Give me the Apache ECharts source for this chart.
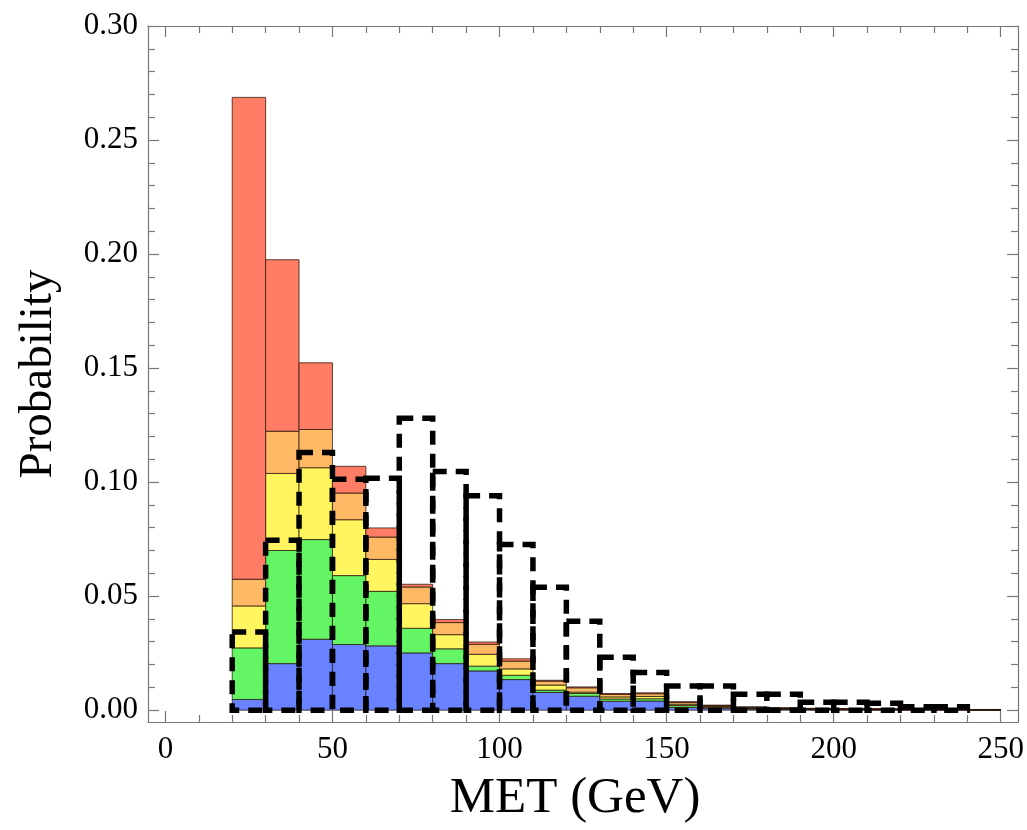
<!DOCTYPE html>
<html>
<head>
<meta charset="utf-8">
<script src="https://cdn.jsdelivr.net/npm/echarts@6/dist/echarts.min.js"></script>
<style>
html,body{margin:0;padding:0;background:#fff;}
#chart{width:1027px;height:830px;}
</style>
</head>
<body>
<div id="chart"></div>
<script>
// ---- data (bin start of each 10 GeV bin) ----
const binStarts = [20,30,40,50,60,70,80,90,100,110,120,130,140,150,160,170,180,190,200,210,220,230,240];
const binWidth = 10;
// stacked background components (segment heights, bottom to top)
const blueVals   = [0.0047,0.0204,0.0311,0.0288,0.0282,0.0251,0.0204,0.0172,0.0134,0.0078,0.0061,0.0039,0.0040,0.0012,0.0008,0.0004,0.0003,0.0002,0.0002,0.0001,0.0001,0.0001,0.0001];
const greenVals  = [0.0226,0.0496,0.0437,0.0302,0.0239,0.0108,0.0065,0.0021,0.0019,0.0010,0.0012,0.0010,0.0010,0.0008,0.0004,0.0003,0.0002,0.0002,0.0001,0.0002,0.0001,0.0001,0.0000];
const yellowVals = [0.0184,0.0338,0.0315,0.0245,0.0140,0.0108,0.0062,0.0052,0.0028,0.0022,0.0006,0.0009,0.0010,0.0006,0.0004,0.0003,0.0002,0.0001,0.0001,0.0001,0.0001,0.0001,0.0001];
const orangeVals = [0.0117,0.0185,0.0168,0.0117,0.0098,0.0073,0.0053,0.0044,0.0034,0.0017,0.0019,0.0011,0.0012,0.0008,0.0004,0.0003,0.0002,0.0002,0.0002,0.0001,0.0001,0.0000,0.0000];
const redVals    = [0.2113,0.0752,0.0292,0.0117,0.0040,0.0012,0.0013,0.0010,0.0010,0.0004,0.0004,0.0004,0.0004,0.0003,0.0002,0.0001,0.0001,0.0001,0.0001,0.0001,0.0001,0.0001,0.0001];
// dashed histogram (bins 20..230)
const dashedVals = [0.0343,0.0745,0.1130,0.1012,0.1017,0.1280,0.1047,0.0940,0.0726,0.0539,0.0390,0.0232,0.0165,0.0106,0.0106,0.0070,0.0070,0.0035,0.0035,0.0030,0.0015,0.0015];
// axis ticks
const xMajorTicks = [0,50,100,150,200,250];
const xMinorTicks = [10,20,30,40,60,70,80,90,110,120,130,140,160,170,180,190,210,220,230,240];
const yMajorTicks = [0,0.05,0.10,0.15,0.20,0.25,0.30];
const yMinorTicks = [0.01,0.02,0.03,0.04,0.06,0.07,0.08,0.09,0.11,0.12,0.13,0.14,0.16,0.17,0.18,0.19,0.21,0.22,0.23,0.24,0.26,0.27,0.28,0.29];

const stackDefs = [
  {name:'blue',   vals: blueVals,   color:'#6982FF'},
  {name:'green',  vals: greenVals,  color:'#64F564'},
  {name:'yellow', vals: yellowVals, color:'#FFF55F'},
  {name:'orange', vals: orangeVals, color:'#FFB964'},
  {name:'red',    vals: redVals,    color:'#FF7D64'}
];

const base = binStarts.map(() => 0);
const series = [];
stackDefs.forEach(def => {
  const data = binStarts.map((x0, i) => {
    const b = base[i];
    const t = b + def.vals[i];
    base[i] = t;
    return [x0, x0 + binWidth, b, t];
  });
  series.push({
    type: 'custom',
    name: def.name,
    xAxisIndex: 0, yAxisIndex: 0,
    silent: true,
    data: data,
    renderItem: function (params, api) {
      const p0 = api.coord([api.value(0), api.value(3)]);
      const p1 = api.coord([api.value(1), api.value(2)]);
      return {
        type: 'rect',
        shape: {x: p0[0], y: p0[1], width: p1[0] - p0[0], height: p1[1] - p0[1]},
        style: {fill: def.color, stroke: 'rgba(40,20,10,0.75)', lineWidth: 1}
      };
    },
    z: 2
  });
});

series.push({
  type: 'custom',
  name: 'dashed',
  xAxisIndex: 0, yAxisIndex: 0,
  silent: true,
  data: dashedVals.map((v, i) => [binStarts[i], binStarts[i] + binWidth, v]),
  renderItem: function (params, api) {
    const p0 = api.coord([api.value(0), api.value(2)]);
    const p1 = api.coord([api.value(1), 0]);
    return {
      type: 'rect',
      shape: {x: p0[0], y: p0[1], width: p1[0] - p0[0], height: p1[1] - p0[1]},
      style: {fill: null, stroke: '#000', lineWidth: 5.5, lineDash: [14, 9]}
    };
  },
  z: 5
});

const font = 'Liberation Serif';
const frameColor = '#777';
const X_MIN = -5.2, X_MAX = 255.2, Y_MIN = -0.0052, Y_MAX = 0.30;

function xAxisDef(pos, ticks, len, showLine, showLabel, name) {
  return {
    type: 'value', position: pos, min: X_MIN, max: X_MAX,
    axisLine: {show: showLine, onZero: false, lineStyle: {color: frameColor, width: 1.2}},
    axisTick: {show: true, inside: true, length: len, customValues: ticks, lineStyle: {color: frameColor, width: 1.2}},
    axisLabel: {show: showLabel, customValues: ticks, margin: 12, color: '#000', fontFamily: font, fontSize: 31},
    splitLine: {show: false},
    name: name || '', nameLocation: 'middle', nameGap: 51,
    nameTextStyle: {fontFamily: font, fontSize: 51, color: '#000', padding: [0, 16, 0, 0]}
  };
}
function yAxisDef(pos, ticks, len, showLine, showLabel, name) {
  return {
    type: 'value', position: pos, min: Y_MIN, max: Y_MAX,
    axisLine: {show: showLine, onZero: false, lineStyle: {color: frameColor, width: 1.2}},
    axisTick: {show: true, inside: true, length: len, customValues: ticks, lineStyle: {color: frameColor, width: 1.2}},
    axisLabel: {show: showLabel, customValues: ticks, margin: 10, color: '#000', fontFamily: font, fontSize: 31,
      formatter: v => v.toFixed(2)},
    splitLine: {show: false},
    name: name || '', nameLocation: 'middle', nameGap: 86, nameRotate: 90,
    nameTextStyle: {fontFamily: font, fontSize: 47, color: '#000'}
  };
}

const chart = echarts.init(document.getElementById('chart'), null, {renderer: 'canvas'});
chart.setOption({
  animation: false,
  backgroundColor: '#fff',
  grid: {left: 148, right: 7, top: 26, bottom: 108, containLabel: false},
  xAxis: [
    xAxisDef('bottom', xMajorTicks, 11, true, true, 'MET (GeV)'),
    xAxisDef('bottom', xMinorTicks, 7, false, false),
    xAxisDef('top', xMajorTicks, 11, true, false),
    xAxisDef('top', xMinorTicks, 7, false, false)
  ],
  yAxis: [
    yAxisDef('left', yMajorTicks, 11, true, true, 'Probability'),
    yAxisDef('left', yMinorTicks, 7, false, false),
    yAxisDef('right', yMajorTicks, 11, true, false),
    yAxisDef('right', yMinorTicks, 7, false, false)
  ],
  series: series
});
</script>
</body>
</html>
